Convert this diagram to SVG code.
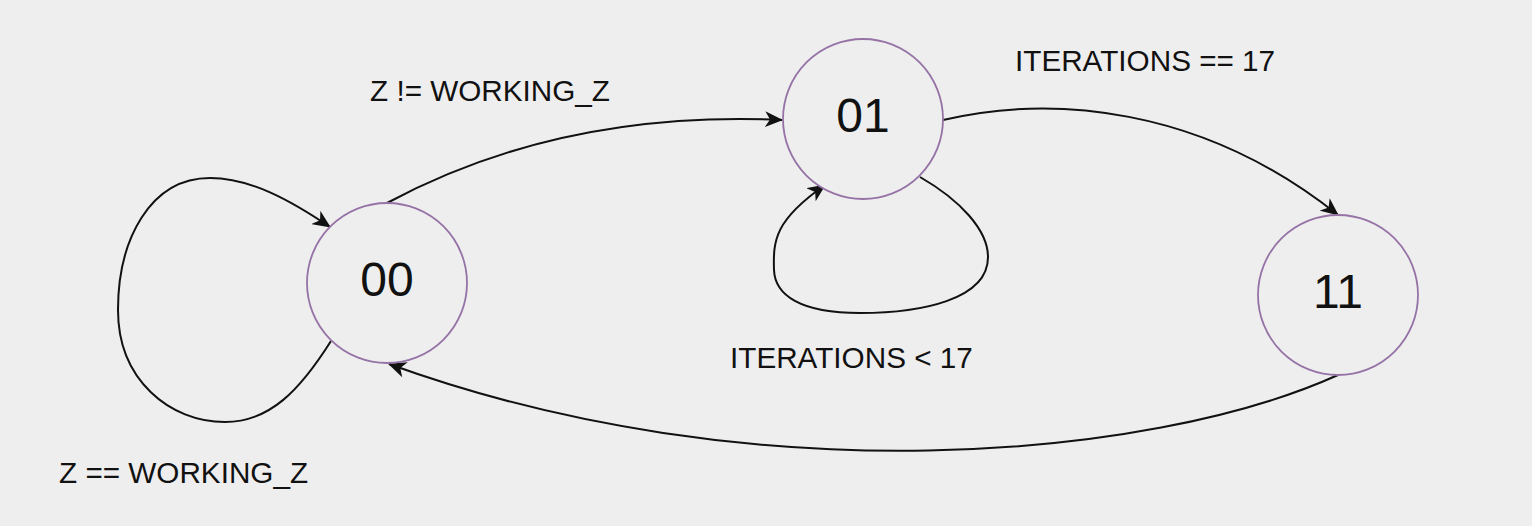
<svg xmlns="http://www.w3.org/2000/svg" width="1532" height="526" viewBox="0 0 1532 526">
<style>
.state{fill:#eeeeee;stroke:#9673a6;stroke-width:1.8}
.num{font-family:"Liberation Sans",Arial,sans-serif;font-size:48px;fill:#111111;text-anchor:middle}
.lbl{font-family:"Liberation Sans",Arial,sans-serif;font-size:29.7px;fill:#111111}
.edge{fill:none;stroke:#111111;stroke-width:2}
</style>
<defs>
<marker id="arr" viewBox="0 0 18 16" refX="17" refY="8" markerWidth="18" markerHeight="16" markerUnits="userSpaceOnUse" orient="auto">
<path d="M0,0 L18,8 L0,16 L5,8 z" fill="#111111"/>
</marker>
</defs>
<rect width="1532" height="526" fill="#eeeeee"/>
<g id="connectors">
<path class="edge" marker-end="url(#arr)" d="M387 203 Q560 110 782 120"/>
<path class="edge" marker-end="url(#arr)" d="M943 120 C1050 95 1200 105 1338 215"/>
<path class="edge" marker-end="url(#arr)" d="M1338 375 C1150 460 750 495 389 364"/>
<path class="edge" marker-end="url(#arr)" d="M331 341 C300 390 270 422 225 422 C170 422 118 380 118 310 C118 240 150 178 210 178 C250 178 290 200 330 227"/>
<path class="edge" marker-end="url(#arr)" d="M920 177 C960 200 988 230 988 257 C988 300 920 313 860 313 C800 313 775 295 774 270 C773 240 775 220 825 185"/>
</g>
<g id="state00">
<circle class="state" cx="387" cy="283" r="80"/>
<text class="num" x="387" y="296">00</text>
</g>
<g id="state01">
<circle class="state" cx="863" cy="119" r="80"/>
<text class="num" x="863" y="132">01</text>
</g>
<g id="state11">
<circle class="state" cx="1338" cy="295" r="80"/>
<text class="num" x="1338" y="308">11</text>
</g>
<g id="labels">
<text class="lbl" x="370" y="101">Z != WORKING_Z</text>
<text class="lbl" x="1015" y="71">ITERATIONS == 17</text>
<text class="lbl" x="730" y="368">ITERATIONS &lt; 17</text>
<text class="lbl" x="59" y="483">Z == WORKING_Z</text>
</g>
</svg>
